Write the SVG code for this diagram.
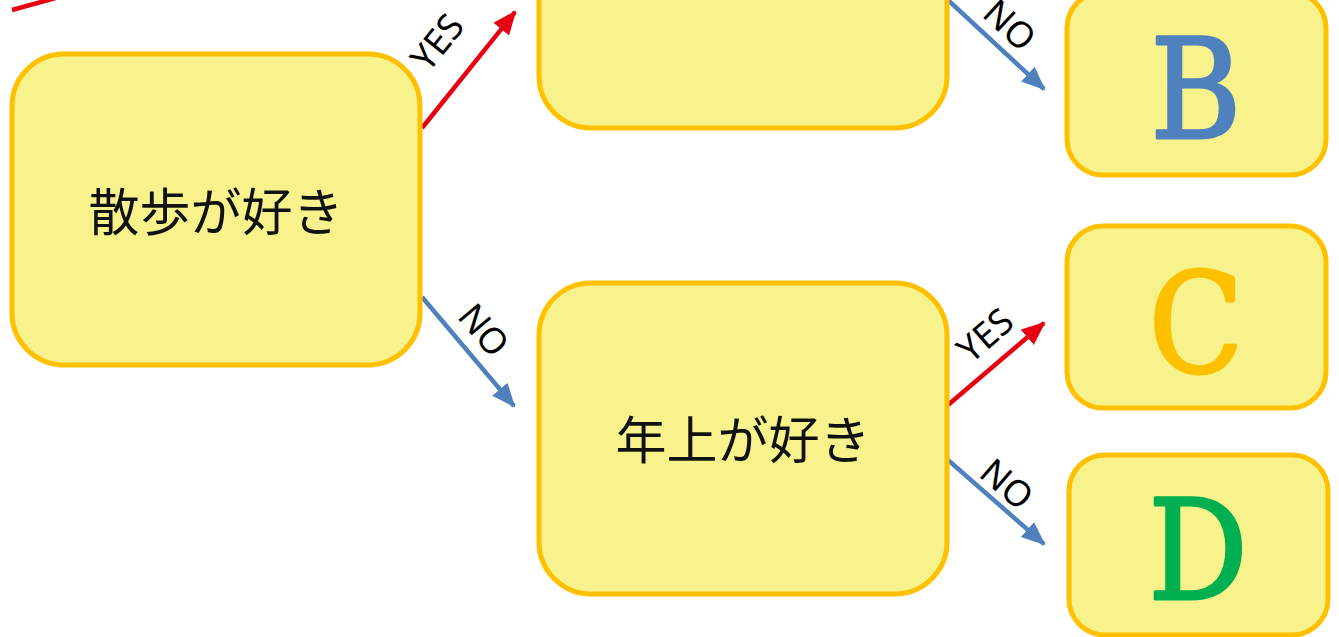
<svg xmlns="http://www.w3.org/2000/svg" width="1339" height="637" viewBox="0 0 1339 637">
<style>
.box{fill:#F8F28C;stroke:#FFC000;stroke-width:5}
.jp{font-family:"Noto Sans CJK JP","Noto Sans",sans-serif;font-size:51px;fill:#111;text-anchor:middle}
.lbl{font-family:"Noto Sans","Open Sans",sans-serif;font-size:36px;fill:#000;text-anchor:middle}
.big{font-family:"DejaVu Serif","Liberation Serif",serif;font-size:138px;text-anchor:middle;stroke-linejoin:round;stroke-width:3}
.yes{stroke:#E60012;stroke-width:4.5;fill:none}
.no{stroke:#4F81BD;stroke-width:4.5;fill:none}
</style>
<defs>
<marker id="ar" markerUnits="userSpaceOnUse" markerWidth="26" markerHeight="22" refX="22" refY="10" orient="auto"><path d="M0,0 L24,10 L0,20 Z" fill="#E60012"/></marker>
<marker id="ab" markerUnits="userSpaceOnUse" markerWidth="26" markerHeight="22" refX="22" refY="10" orient="auto"><path d="M0,0 L24,10 L0,20 Z" fill="#4F81BD"/></marker>
</defs>
<rect width="1339" height="637" fill="#fff"/>
<g id="connectors">
<line class="yes" x1="12" y1="10" x2="70" y2="-6"/>
<line class="yes" x1="422" y1="128" x2="515" y2="12" marker-end="url(#ar)"/>
<line class="no" x1="422" y1="297" x2="514" y2="406" marker-end="url(#ab)"/>
<line class="no" x1="948" y1="0" x2="1044" y2="89" marker-end="url(#ab)"/>
<line class="yes" x1="948" y1="405" x2="1044" y2="323" marker-end="url(#ar)"/>
<line class="no" x1="948" y1="460" x2="1044" y2="544" marker-end="url(#ab)"/>
<text class="lbl" transform="translate(437,42) rotate(-51)" dy="13">YES</text>
<text class="lbl" transform="translate(484,330) rotate(50)" dy="13">NO</text>
<text class="lbl" transform="translate(1010,25) rotate(43)" dy="13">NO</text>
<text class="lbl" transform="translate(985,335) rotate(-41)" dy="13">YES</text>
<text class="lbl" transform="translate(1007,484) rotate(41)" dy="13">NO</text>
</g>
<g id="node-sanpo">
<rect class="box" x="12" y="54" width="408" height="311" rx="52"/>
<text class="jp" x="216" y="231">散歩が好き</text>
</g>
<g id="node-top">
<rect class="box" x="539" y="-183" width="408" height="311" rx="52"/>
</g>
<g id="node-toshiue">
<rect class="box" x="539" y="283" width="408" height="311" rx="52"/>
<text class="jp" x="743" y="459">年上が好き</text>
</g>
<g id="node-B">
<rect class="box" x="1067" y="-8" width="259" height="183" rx="36"/>
<text class="big" transform="translate(1196,138) scale(0.9,1)" fill="#4F81BD" stroke="#4F81BD">B</text>
</g>
<g id="node-C">
<rect class="box" x="1067" y="226" width="259" height="182" rx="36"/>
<text class="big" transform="translate(1196,372) scale(0.9,1)" fill="#FFC000" stroke="#FFC000">C</text>
</g>
<g id="node-D">
<rect class="box" x="1069" y="455" width="259" height="180" rx="36"/>
<text class="big" transform="translate(1198,599) scale(0.9,1)" fill="#00B050" stroke="#00B050">D</text>
</g>
</svg>
